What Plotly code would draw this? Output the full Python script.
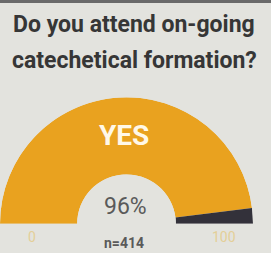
import plotly.graph_objects as go

# Data
categories = ["Yes", "No"]
percent_values = [96, 4]
scale_min, scale_max = 0, 100
sample_size = 414
title_lines = ["Do you attend on-going", "catechetical formation?"]

W, H = 271, 253
bg = "#e3e3de"

# convert percent to angle on a 180 degree gauge
deg_per_unit = 180.0 / (scale_max - scale_min)
starts = []
acc = 0
for v in percent_values:
    starts.append(acc)
    acc += v
thetas = [(s + v / 2) * deg_per_unit for s, v in zip(starts, percent_values)]
widths = [v * deg_per_unit for v in percent_values]

fig = go.Figure()
fig.add_trace(go.Barpolar(
    r=[1, 1],
    theta=thetas,
    width=widths,
    marker=dict(color=["#e9a21f", "#33313a"], line=dict(width=0)),
    hoverinfo="skip",
))

# gauge geometry (pixels)
cx, base_y, R = 126, 224, 127
x0 = max(0.0, (cx - R) / W)
x1 = min(1.0, (cx + R) / W)
y0 = (H - base_y) / H
y1 = (H - base_y + R) / H

fig.update_layout(
    width=W, height=H,
    margin=dict(l=0, r=0, t=0, b=0),
    paper_bgcolor=bg, plot_bgcolor=bg,
    showlegend=False,
    polar=dict(
        domain=dict(x=[x0, x1], y=[y0, y1]),
        sector=[0, 180],
        hole=0.39,
        bgcolor=bg,
        angularaxis=dict(rotation=180, direction="clockwise", visible=False,
                         showgrid=False, showline=False, ticks=""),
        radialaxis=dict(range=[0, 1], visible=False, showgrid=False,
                        showline=False, ticks=""),
    ),
)

title_font = dict(family="Roboto, sans-serif", size=23, color="#363636")
fig.add_annotation(x=134 / W, y=1 - 25 / H, xref="paper", yref="paper",
                   text="<b>" + title_lines[0] + "</b>", showarrow=False,
                   font=title_font, xanchor="center", yanchor="middle")
fig.add_annotation(x=134 / W, y=1 - 61 / H, xref="paper", yref="paper",
                   text="<b>" + title_lines[1] + "</b>", showarrow=False,
                   font=title_font, xanchor="center", yanchor="middle")

fig.add_annotation(x=124 / W, y=1 - 135 / H, xref="paper", yref="paper",
                   text="<b>" + categories[0].upper() + "</b>", showarrow=False,
                   font=dict(family="Roboto, sans-serif", size=28, color="#fff8e8"),
                   xanchor="center", yanchor="middle")
fig.add_annotation(x=125 / W, y=1 - 206 / H, xref="paper", yref="paper",
                   text=f"{percent_values[0]}%", showarrow=False,
                   font=dict(family="Roboto, sans-serif", size=23, color="#5a5a5a"),
                   xanchor="center", yanchor="middle")
fig.add_annotation(x=124 / W, y=1 - 243 / H, xref="paper", yref="paper",
                   text=f"<b>n={sample_size}</b>", showarrow=False,
                   font=dict(family="Roboto, sans-serif", size=14, color="#5a5a5a"),
                   xanchor="center", yanchor="middle")
fig.add_annotation(x=32 / W, y=1 - 237 / H, xref="paper", yref="paper",
                   text=str(scale_min), showarrow=False,
                   font=dict(family="Roboto, sans-serif", size=14, color="#e3cf98"),
                   xanchor="center", yanchor="middle")
fig.add_annotation(x=224 / W, y=1 - 237 / H, xref="paper", yref="paper",
                   text=str(scale_max), showarrow=False,
                   font=dict(family="Roboto, sans-serif", size=14, color="#e3cf98"),
                   xanchor="center", yanchor="middle")

fig.add_shape(type="rect", xref="paper", yref="paper", x0=0, x1=1,
              y0=1 - 3 / H, y1=1, fillcolor="#6a6a6a", line=dict(width=0))

fig.write_html("out.html", config={"displayModeBar": False},
               post_script="document.body.style.margin='0';")
